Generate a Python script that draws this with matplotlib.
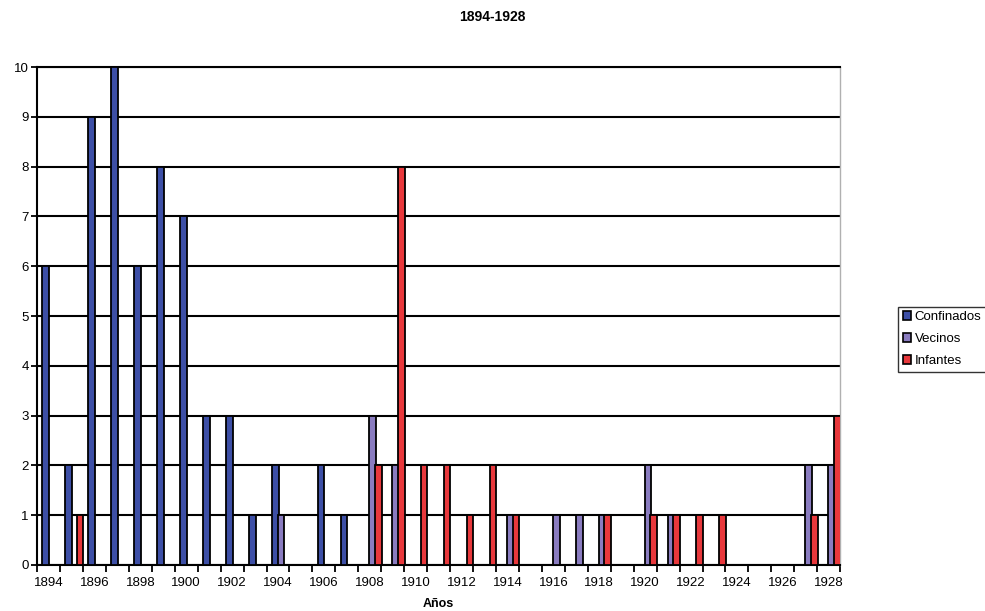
import numpy as np
import matplotlib.pyplot as plt
from matplotlib.patches import Patch

plt.rcParams['font.family'] = ['Liberation Sans', 'DejaVu Sans']

years = list(range(1894, 1929))

confinados = {1894: 6, 1895: 2, 1896: 9, 1897: 10, 1898: 6, 1899: 8, 1900: 7,
              1901: 3, 1902: 3, 1903: 1, 1904: 2, 1906: 2, 1907: 1}
vecinos = {1904: 1, 1908: 3, 1909: 2, 1914: 1, 1916: 1, 1917: 1, 1918: 1,
           1920: 2, 1921: 1, 1927: 2, 1928: 2}
infantes = {1895: 1, 1908: 2, 1909: 8, 1910: 2, 1911: 2, 1912: 1, 1913: 2,
            1914: 1, 1918: 1, 1920: 1, 1921: 1, 1922: 1, 1923: 1, 1927: 1,
            1928: 3}

series = [("Confinados", confinados, "#3d4fa6", 0.38),
          ("Vecinos", vecinos, "#8a7cc0", 0.625),
          ("Infantes", infantes, "#e8383c", 0.87)]

fig = plt.figure(figsize=(9.85, 6.11), dpi=100)
ax = fig.add_axes([0.0376, 0.0753, 0.8154, 0.8150])

idx = np.arange(len(years))
for name, data, color, off in series:
    vals = [data.get(y, 0) for y in years]
    xs = [i + off for i, v in zip(idx, vals) if v > 0]
    hs = [v for v in vals if v > 0]
    ax.bar(xs, hs, width=0.29, color=color, edgecolor="black",
           linewidth=1.3, zorder=3)

ax.set_xlim(0, len(years))
ax.set_ylim(0, 10)
ax.set_yticks(range(0, 11))
ax.yaxis.grid(True, color="black", linewidth=1.5, zorder=1)

ax.set_xticks(np.arange(len(years) + 1))
ax.set_xticklabels([])
ax.set_xticks([i + 0.5 for i in idx if years[i] % 2 == 0], minor=True)
ax.set_xticklabels([str(y) for y in years if y % 2 == 0], minor=True)
ax.tick_params(axis="x", which="minor", length=0, labelsize=9.5, pad=9)
ax.tick_params(axis="x", which="major", length=5, width=1.3, direction="out")
ax.tick_params(axis="y", length=4, width=1.3, labelsize=9.5, pad=2)

for s in ["left", "bottom", "top"]:
    ax.spines[s].set_color("black")
    ax.spines[s].set_linewidth(1.5)
ax.spines["right"].set_color("#b0b0b0")
ax.spines["right"].set_linewidth(1.0)

ax.set_xlabel("Años", fontsize=9, fontweight="bold", labelpad=6)
fig.text(0.5, 0.972, "1894-1928", ha="center", va="center",
         fontsize=10, fontweight="bold")

handles = [Patch(facecolor=c, edgecolor="black", linewidth=1.2, label=n)
           for n, _, c, _ in series]
leg = fig.legend(handles=handles, loc="upper left",
                 bbox_to_anchor=(0.912, 0.498), fontsize=9.5, frameon=True,
                 fancybox=False, edgecolor="black", handlelength=0.6,
                 handleheight=0.6, handletextpad=0.3, borderpad=0.35,
                 labelspacing=0.75, borderaxespad=0)
leg.get_frame().set_linewidth(1.0)

fig.savefig("out.png", dpi=100)
